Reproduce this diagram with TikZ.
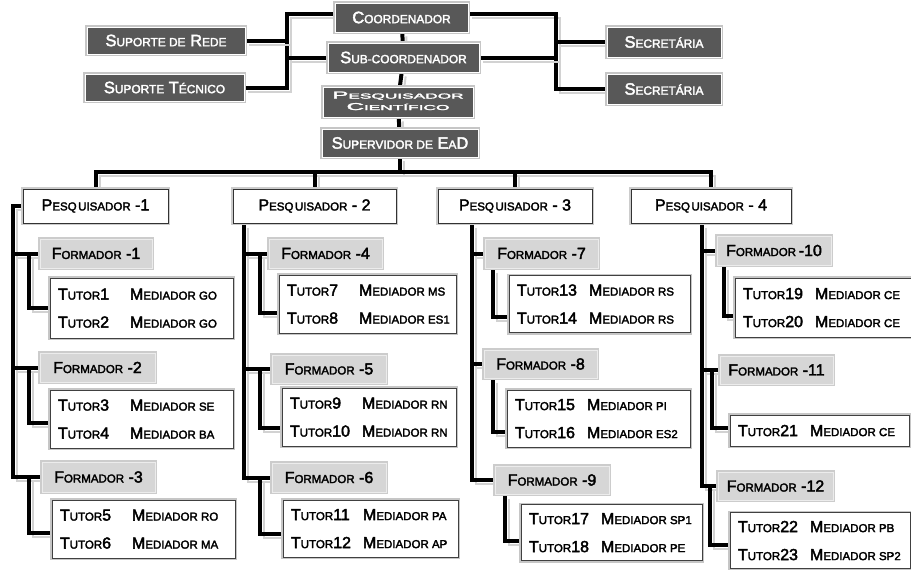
\documentclass[tikz,border=0pt]{standalone}
\usepackage{fontspec}
\setmainfont{Liberation Sans}[FakeBold=2.5]
\usepackage{graphicx}
\pgfdeclarelayer{bg}
\pgfsetlayers{bg,main}
\makeatletter
\newcommand\sm[1]{{\fontsize{\fpeval{0.72*\f@size}}{\f@baselineskip}\selectfont #1}}
\makeatother
\newcommand\TutX[1]{T\sm{UTOR}#1}
\newcommand\MedX[1]{M\sm{EDIADOR #1}}
\newcommand\tutx[2]{\makebox[#1][l]{\begin{tabular}{@{}p{72pt}@{}l@{}}#2\end{tabular}}}
\newcommand\PesqX{P\sm{ESQ\kern1.5ptUISADOR}}
\definecolor{dk}{HTML}{585858}
\definecolor{fm}{HTML}{D6D6D6}
\tikzset{
 obox/.style={rectangle, inner sep=0pt, font=\fontsize{16}{28}\selectfont},
 darkbox/.style={obox, fill=dk, draw=white, line width=0.9pt, text=white,
   font=\fontsize{16.5}{20}\selectfont, preaction={draw=gray!45, line width=3.6pt}},
 pesqbox/.style={obox, fill=white, draw=black!80, line width=1pt, minimum height=34pt,
   preaction={draw=gray!40, line width=4pt}},
 formbox/.style={obox, fill=fm, draw=gray!15, line width=1pt, minimum height=29pt,
   preaction={draw=gray!40, line width=3.5pt}},
 tutbox/.style={obox, fill=white, draw=black!75, line width=1pt, inner xsep=8pt,
   preaction={draw=gray!45, line width=4pt}},
 conn/.style={line width=4pt, black,
   preaction={draw=gray!35, line width=2pt, transform canvas={xshift=4pt,yshift=-4pt}}},
}
\begin{document}
\begin{tikzpicture}[x=1pt,y=-1pt]
\useasboundingbox (0,0) rectangle (911,570);
% top
\node[darkbox, minimum width=133pt, minimum height=29pt] (coord) at (401.5,17.5) {C\sm{OORDENADOR}};
\node[darkbox, minimum width=151pt, minimum height=29pt] (sub) at (403.5,57.5) {S\sm{UB-COORDENADOR}};
\node[darkbox, minimum width=150pt, minimum height=30pt] (pc) at (398,102)
  {\scalebox{2.4}[1]{\fontsize{10}{11.5}\selectfont\begin{tabular}{@{}c@{}}P\sm{ESQUISADOR}\\C\sm{IENTÍFICO}\end{tabular}}};
\node[darkbox, minimum width=156pt, minimum height=28pt] (sup) at (400,143) {S\sm{UPERVIDOR DE} E\sm{A}D};
\node[darkbox, minimum width=158pt, minimum height=27pt] (sr) at (166,40.5) {S\sm{UPORTE DE} R\sm{EDE}};
\node[darkbox, minimum width=159pt, minimum height=27pt] (st) at (164.5,87.5) {S\sm{UPORTE} T\sm{ÉCNICO}};
\node[darkbox, minimum width=114pt, minimum height=30pt] (sec1) at (664,42) {S\sm{ECRETÁRIA}};
\node[darkbox, minimum width=114pt, minimum height=30pt] (sec2) at (664,89) {S\sm{ECRETÁRIA}};
% pesquisadores
\node[pesqbox, minimum width=145pt] (p1) at (95.5,206) {\PesqX{} -1};
\node[pesqbox, minimum width=163pt] (p2) at (314.5,206) {\PesqX{} - 2};
\node[pesqbox, minimum width=154pt] (p3) at (515,206) {\PesqX{} - 3};
\node[pesqbox, minimum width=160pt] (p4) at (711,206) {\PesqX{} - 4};
% formadores
\node[formbox, minimum width=112pt] (f1) at (96,253.5) {F\sm{ORMADOR} -1};
\node[formbox, minimum width=115pt] (f2) at (97.5,367.5) {F\sm{ORMADOR} -2};
\node[formbox, minimum width=113pt, minimum height=30pt] (f3) at (98.5,477) {F\sm{ORMADOR} -3};
\node[formbox, minimum width=113pt] (f4) at (325.5,253.5) {F\sm{ORMADOR} -4};
\node[formbox, minimum width=114pt, minimum height=28pt] (f5) at (329,369) {F\sm{ORMADOR} -5};
\node[formbox, minimum width=114pt] (f6) at (329,477.5) {F\sm{ORMADOR} -6};
\node[formbox, minimum width=113pt] (f7) at (541.5,253.5) {F\sm{ORMADOR} -7};
\node[formbox, minimum width=113pt, minimum height=28pt] (f8) at (540.5,364) {F\sm{ORMADOR} -8};
\node[formbox, minimum width=114pt, minimum height=28pt] (f9) at (552,480) {F\sm{ORMADOR} -9};
\node[formbox, minimum width=114pt] (f10) at (774,250.5) {F\sm{ORMADOR}\,-10};
\node[formbox, minimum width=113pt, minimum height=28pt] (f11) at (776.5,370) {F\sm{ORMADOR} -11};
\node[formbox, minimum width=115pt, minimum height=28pt] (f12) at (775.5,486) {F\sm{ORMADOR} -12};
% tutores
\node[tutbox, minimum height=60pt] (t1) at (141.5,308) {\tutx{167pt}{\TutX{1}&\MedX{GO}\\\TutX{2}&\MedX{GO}}};
\node[tutbox, minimum height=58pt] (t2) at (141.5,419) {\tutx{167pt}{\TutX{3}&\MedX{SE}\\\TutX{4}&\MedX{BA}}};
\node[tutbox, minimum height=58pt] (t3) at (143.5,529) {\tutx{167pt}{\TutX{5}&\MedX{RO}\\\TutX{6}&\MedX{MA}}};
\node[tutbox, minimum height=58pt] (t4) at (367.5,304) {\tutx{161pt}{\TutX{7}&\MedX{MS}\\\TutX{8}&\MedX{ES1}}};
\node[tutbox, minimum height=58pt] (t5) at (369,417) {\tutx{158pt}{\TutX{9}&\MedX{RN}\\\TutX{10}&\MedX{RN}}};
\node[tutbox, minimum height=57pt] (t6) at (370.5,528.5) {\tutx{159pt}{\TutX{11}&\MedX{PA}\\\TutX{12}&\MedX{AP}}};
\node[tutbox, minimum height=57pt] (t7) at (599.5,304) {\tutx{165pt}{\TutX{13}&\MedX{RS}\\\TutX{14}&\MedX{RS}}};
\node[tutbox, minimum height=57pt] (t8) at (598.5,418.5) {\tutx{167pt}{\TutX{15}&\MedX{PI}\\\TutX{16}&\MedX{ES2}}};
\node[tutbox, minimum height=51pt] (t9) at (611.5,532.5) {\tutx{165pt}{\TutX{17}&\MedX{SP1}\\\TutX{18}&\MedX{PE}}};
\node[tutbox, minimum height=59pt] (t10) at (823,307.5) {\tutx{160pt}{\TutX{19}&\MedX{CE}\\\TutX{20}&\MedX{CE}}};
\node[tutbox, minimum height=31pt] (t11) at (819.5,430.5) {\tutx{163pt}{\TutX{21}&\MedX{CE}}};
\node[tutbox, minimum height=55pt] (t12) at (820,540.5) {\tutx{164pt}{\TutX{22}&\MedX{PB}\\\TutX{23}&\MedX{SP2}}};
% connectors
\begin{pgfonlayer}{bg}
\fill[white] (0,0) rectangle (911,570);
\coordinate (lb) at (287,0);
\coordinate (rb) at (556,0);
\coordinate (bus) at (400,172);
\coordinate (c1) at (13,0);  \coordinate (s1) at (29,0);
\coordinate (c2) at (244,0); \coordinate (s2) at (260,0);
\coordinate (c3) at (472,0); \coordinate (s3) at (493,0); \coordinate (s3b) at (505,0);
\coordinate (c4) at (702,0); \coordinate (s4a) at (724,0); \coordinate (s4b) at (712,0); \coordinate (s4c) at (710,0);
\draw[conn] ([yshift=4pt]coord.west) -| (lb |- st.east) -- (st.east);
\draw[conn] (sr.east) -- (lb |- sr.east);
\draw[conn] (sub.west) -- (lb |- sub.west);
\draw[conn] ([yshift=4pt]coord.east) -| (rb |- sec2.west) -- (sec2.west);
\draw[conn] (sec1.west) -- (rb |- sec1.west);
\draw[conn] (sub.east) -- (rb |- sub.east);
\draw[conn] (coord) -- (sub) -- (pc) -- (sup);
\draw[conn] (sup.south) -- (bus);
\draw[conn] (p1.north) |- (bus) -| (p4.north);
\draw[conn] (p2.north) -- (p2.north |- bus);
\draw[conn] (p3.north) -- (p3.north |- bus);
% column 1
\draw[conn] (p1.west) -| (c1 |- f3.west) -- (f3.west);
\draw[conn] (c1 |- f1.west) -- (f1.west);
\draw[conn] (c1 |- f2.west) -- (f2.west);
\draw[conn] (s1 |- f1.west) |- (t1.west);
\draw[conn] (s1 |- f2.west) |- ([yshift=-4pt]t2.west);
\draw[conn] (s1 |- f3.west) |- ([yshift=-4pt]t3.west);
% column 2
\draw[conn] (p2.south -| c2) |- (f6.west);
\draw[conn] (c2 |- f4.west) -- (f4.west);
\draw[conn] (c2 |- f5.west) -- (f5.west);
\draw[conn] (s2 |- f4.west) |- ([yshift=-9pt]t4.west);
\draw[conn] (s2 |- f5.west) |- ([yshift=-11pt]t5.west);
\draw[conn] (s2 |- f6.west) |- ([yshift=-5pt]t6.west);
% column 3
\draw[conn] (p3.south -| c3) |- (f9.west);
\draw[conn] (c3 |- f7.west) -- (f7.west);
\draw[conn] (c3 |- f8.west) -- (f8.west);
\draw[conn] (f7.south -| s3) |- ([yshift=-13pt]t7.west);
\draw[conn] (f8.south -| s3) |- ([yshift=-13pt]t8.west);
\draw[conn] (f9.south -| s3b) |- ([yshift=-8pt]t9.west);
% column 4
\draw[conn] (p4.south -| c4) |- (f12.west);
\draw[conn] (c4 |- f10.west) -- (f10.west);
\draw[conn] (c4 |- f11.west) -- (f11.west);
\draw[conn] (f10.south -| s4a) |- ([yshift=-8pt]t10.west);
\draw[conn] (s4b |- f11.west) |- ([yshift=3pt]t11.west);
\draw[conn] (s4c |- f12.west) |- ([yshift=-4pt]t12.west);
\end{pgfonlayer}
\end{tikzpicture}
\end{document}
